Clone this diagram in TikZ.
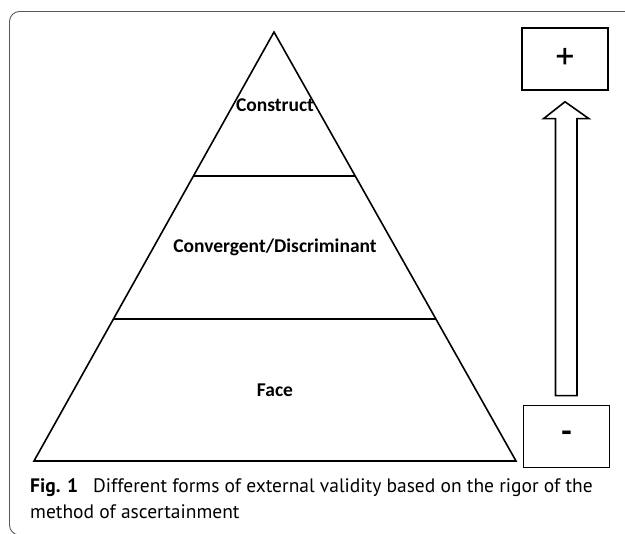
\documentclass[tikz,border=0pt]{standalone}
\usepackage{fontspec}
\setmainfont{Carlito}
\newfontfamily\capfont{PT Sans}
\usetikzlibrary{calc}

\begin{document}
\begin{tikzpicture}[
x=1pt, y=-1pt,
line join=miter,
level/.style={font=\bfseries\fontsize{19.5}{22}\selectfont},
sign/.style={rectangle, draw, line width=1.6pt, minimum width=86pt, minimum height=62pt},
edge/.style={line width=1.6pt}]
\useasboundingbox (0,0) rectangle (625,534);
\clip (0,0) rectangle (625,534);
% frame of the figure
\draw[black!65, line width=0.9pt, rounded corners=10pt] (640,11.5) -- (9.5,11.5) -- (9.5,535) -- (640,535);
% pyramid
\coordinate (top) at (274,32);
\coordinate (bl) at (34,461);
\coordinate (br) at (516,461);
\draw[edge] (top) -- (bl) -- (br) -- cycle;
\draw[edge] ($(top)!0.3357!(bl)$) -- ($(top)!0.3357!(br)$);
\draw[edge] ($(top)!0.669!(bl)$) -- ($(top)!0.669!(br)$);
\node[level] (construct) at (275,105) {Construct};
\node[level] (conv) at (275,247) {Convergent/Discriminant};
\node[level] (face) at (275,390) {Face};
% rigor scale
\node[sign, font=\capfont\fontsize{38}{38}\selectfont] (plus) at (565,59) {+};
\node[sign, font=\bfseries\fontsize{34}{34}\selectfont] (minus) at (566.5,436.5) {-};
\draw[edge] ($(minus.north)+(-11,-9)$) -- ++(0,-277) -- ++(-12,0)
  -- ($(plus.south)+(0,11)$) -- ($(minus.north)+(22.5,-286)$) -- ++(-12,0)
  -- ++(0,277) -- cycle;
% caption
\node[anchor=north west, align=left, inner sep=0pt, font=\capfont\fontsize{19.5}{26}\selectfont] (caption) at (30,478)
  {\textbf{Fig. 1}\hspace{0.5em} Different forms of external validity based on the rigor of the\\method of ascertainment};
\end{tikzpicture}
\end{document}
